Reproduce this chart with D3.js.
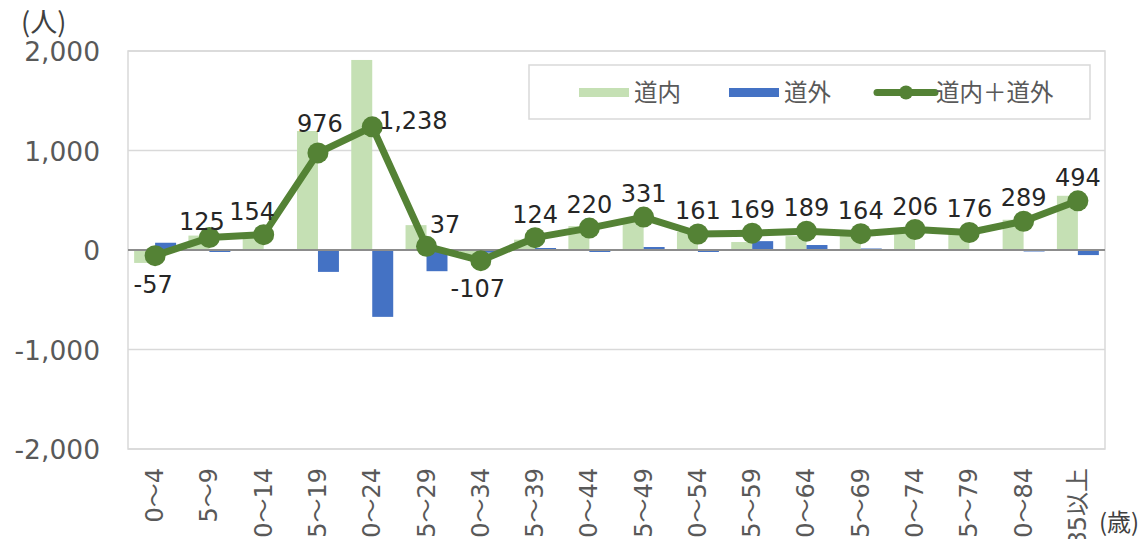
<!DOCTYPE html>
<html>
<head>
<meta charset="utf-8">
<script src="https://cdn.jsdelivr.net/npm/d3@7"></script>
<style>
  html, body { margin: 0; padding: 0; background: #fff; }
  svg { display: block; font-family: "DejaVu Sans", "Noto Sans CJK JP", sans-serif; }
</style>
</head>
<body>
<svg id="chart" width="1148" height="539"></svg>
<script>
// Age groups (5-year bands)
const categories = ["0～4", "5～9", "10～14", "15～19", "20～24", "25～29", "30～34", "35～39",
  "40～44", "45～49", "50～54", "55～59", "60～64", "65～69", "70～74", "75～79", "80～84", "85以上"];
// Net migration within Hokkaido (道内)
const withinValues = [-130, 145, 150, 1196, 1910, 250, -80, 104, 240, 301, 181, 80, 139, 149, 201, 173, 304, 545];
// Net migration from outside Hokkaido (道外)
const outsideValues = [73, -20, 4, -220, -672, -213, -27, 20, -20, 30, -20, 89, 50, 15, 5, 3, -15, -51];
// Combined total (道内＋道外)
const totalValues = [-57, 125, 154, 976, 1238, 37, -107, 124, 220, 331, 161, 169, 189, 164, 206, 176, 289, 494];
const yTicks = [-2000, -1000, 0, 1000, 2000];
const seriesNames = ["道内", "道外", "道内＋道外"];

const colWithin = "#c5e0b4";
const colOutside = "#4472c4";
const colTotal = "#548235";

// Thousands separator with a plain hyphen for negatives
const fmt = v => d3.format(",")(v).replace("−", "-");

const svg = d3.select("#chart");
const plotL = 128, plotR = 1105, plotT = 51, plotB = 449;

const x = d3.scaleBand().domain(categories).range([plotL, plotR]).paddingInner(0.227).paddingOuter(0.113);
const xs = d3.scaleBand().domain(["within", "outside"]).range([0, x.bandwidth()]);
const y = d3.scaleLinear().domain([-2000, 2000]).range([plotB, plotT]);

// Plot frame and gridlines
svg.append("rect").attr("x", plotL).attr("y", plotT).attr("width", plotR - plotL).attr("height", plotB - plotT)
  .attr("fill", "none").attr("stroke", "#d9d9d9").attr("stroke-width", 1.5);
svg.append("g").selectAll("line").data(yTicks.filter(d => d !== 0)).join("line")
  .attr("x1", plotL).attr("x2", plotR).attr("y1", d => y(d)).attr("y2", d => y(d))
  .attr("stroke", "#d9d9d9").attr("stroke-width", 1.5);

// Y axis labels
const yAxis = d3.axisLeft(y).tickValues(yTicks).tickFormat(fmt).tickSize(0).tickPadding(0);
const ya = svg.append("g").attr("transform", `translate(${plotL - 28},0)`).call(yAxis);
ya.select(".domain").remove();
ya.selectAll("text").attr("font-size", 26.5).attr("fill", "#595959")
  .attr("font-family", "'DejaVu Sans', sans-serif").attr("dy", "0.36em");

svg.append("text").attr("x", 21).attr("y", 32).attr("font-size", 27).attr("fill", "#404040")
  .attr("font-family", "'Noto Sans CJK JP', sans-serif").text("(人)");

// Bars
const g = svg.append("g");
g.selectAll("rect.within").data(categories).join("rect").attr("class", "within")
  .attr("x", c => x(c) + xs("within")).attr("width", xs.bandwidth())
  .attr("y", (c, i) => y(Math.max(0, withinValues[i])))
  .attr("height", (c, i) => Math.abs(y(withinValues[i]) - y(0)))
  .attr("fill", colWithin);
g.selectAll("rect.outside").data(categories).join("rect").attr("class", "outside")
  .attr("x", c => x(c) + xs("outside")).attr("width", xs.bandwidth())
  .attr("y", (c, i) => y(Math.max(0, outsideValues[i])))
  .attr("height", (c, i) => Math.abs(y(outsideValues[i]) - y(0)))
  .attr("fill", colOutside);

// Zero line
svg.append("line").attr("x1", plotL).attr("x2", plotR).attr("y1", y(0)).attr("y2", y(0))
  .attr("stroke", "#8c8c8c").attr("stroke-width", 2);

// Total line with markers
const cx = c => x(c) + x.bandwidth() / 2;
const line = d3.line().x((d, i) => cx(categories[i])).y(d => y(d));
svg.append("path").datum(totalValues).attr("d", line)
  .attr("fill", "none").attr("stroke", colTotal).attr("stroke-width", 7).attr("stroke-linejoin", "round");
svg.append("g").selectAll("circle").data(totalValues).join("circle")
  .attr("cx", (d, i) => cx(categories[i])).attr("cy", d => y(d)).attr("r", 10.5).attr("fill", colTotal);

// Data labels for the total: default sits above the marker, a few are nudged clear of the line
const placement = { 0: [-2, 37], 1: [-7.5, -8], 2: [-11.5, -15], 3: [2, -21], 4: [41, 2], 5: [18.5, -13], 6: [-3, 36] };
svg.append("g").selectAll("text").data(totalValues).join("text")
  .attr("x", (d, i) => cx(categories[i]) + (placement[i] ? placement[i][0] : 0))
  .attr("y", (d, i) => y(d) + (placement[i] ? placement[i][1] : -15))
  .attr("text-anchor", "middle").attr("font-size", 24).attr("fill", "#262626")
  .text(d => fmt(d));

// X axis labels (rotated, running off the bottom edge)
svg.append("g").selectAll("text").data(categories).join("text")
  .attr("transform", c => `translate(${cx(c) + 8},468) rotate(-90)`)
  .attr("text-anchor", "end").attr("font-size", 24).attr("fill", "#595959")
  .text(c => c);
svg.append("text").attr("x", 1099).attr("y", 531).attr("font-size", 24).attr("fill", "#404040")
  .attr("font-family", "'Noto Sans CJK JP', sans-serif").text("(歳)");

// Legend
const lg = svg.append("g");
lg.append("rect").attr("x", 529).attr("y", 65).attr("width", 561).attr("height", 54)
  .attr("fill", "#fff").attr("stroke", "#d9d9d9").attr("stroke-width", 1.5);
lg.append("rect").attr("x", 579).attr("y", 88).attr("width", 50).attr("height", 9).attr("fill", colWithin);
lg.append("rect").attr("x", 729).attr("y", 88).attr("width", 50).attr("height", 9).attr("fill", colOutside);
lg.append("line").attr("x1", 877).attr("x2", 935).attr("y1", 92.5).attr("y2", 92.5)
  .attr("stroke", colTotal).attr("stroke-width", 7).attr("stroke-linecap", "round");
lg.append("circle").attr("cx", 906).attr("cy", 92.5).attr("r", 7).attr("fill", colTotal);
const legendX = [634, 784, 936];
lg.selectAll("text").data(seriesNames).join("text")
  .attr("x", (d, i) => legendX[i]).attr("y", 101).attr("font-size", 23.5).attr("fill", "#595959")
  .attr("font-family", "'Noto Sans CJK JP', sans-serif")
  .text(d => d);
</script>
</body>
</html>
